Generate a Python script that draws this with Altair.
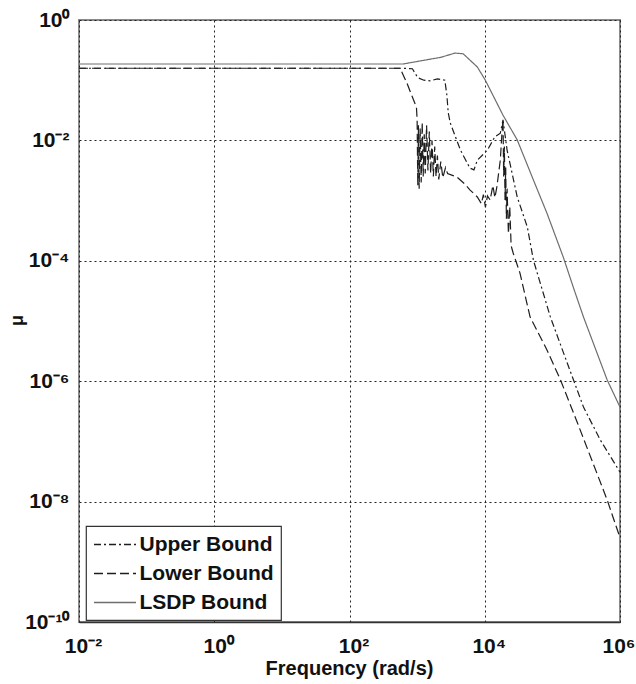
import math
import altair as alt
import pandas as pd

series_names = ["Upper Bound", "Lower Bound", "LSDP Bound"]
series_colors = ["#1e1e1e", "#1e1e1e", "#6e6e6e"]
series_dashes = [[7, 3, 2, 3], [9, 4], [1, 0]]

upper_freq = [1e-2, 603, 851, 1023, 1259, 1549, 1995, 2570, 2754, 2884, 3090,
              4365, 6026, 6918, 7762, 10965, 14125, 16982, 18621, 21380, 30200,
              42658, 52481, 93325, 165959, 288403, 512861, 1e6]
upper_mu = [0.158, 0.158, 0.155, 0.110, 0.100, 0.0977, 0.105, 0.100, 0.0562, 0.0288, 0.0195,
            6.92e-3, 3.47e-3, 3.24e-3, 4.68e-3, 6.92e-3, 0.0115, 0.0132, 0.0219, 6.92e-3, 1.15e-3,
            3.63e-4, 1.02e-4, 1.17e-5, 2.0e-6, 3.72e-7, 1.05e-7, 3.09e-8]

lower_freq = [1e-2, 562, 603, 708, 851, 977, 1000,
              1023, 1047, 1072, 1109, 1148, 1189, 1230, 1274, 1318, 1380, 1445, 1514,
              1585, 1660, 1738, 1820, 1905, 1995, 2089, 2239, 2399, 2630, 2818,
              3890, 5012, 6026, 7762, 8913, 9550, 10233, 10965, 12023, 13183, 14125,
              15136, 16218, 16982, 18197, 18621, 19055, 19498, 19953, 20417, 20893,
              21380, 22387, 23442, 24547, 26303, 33113, 46774, 83176, 131826, 234423,
              398107, 645654, 1e6]
lower_mu = [0.158, 0.158, 0.132, 0.0891, 0.0525, 0.0355, 0.0219,
            1.78e-3, 0.0178, 1.58e-3, 0.0158, 2.0e-3, 0.020, 2.51e-3, 0.0126, 2.82e-3, 0.0178,
            3.16e-3, 0.0141, 2.82e-3, 0.0100, 2.51e-3, 7.94e-3, 2.51e-3, 5.62e-3, 2.24e-3,
            4.47e-3, 2.40e-3, 3.55e-3, 2.82e-3,
            2.45e-3, 1.91e-3, 1.51e-3, 1.15e-3, 8.91e-4, 1.26e-3, 7.76e-4, 1.20e-3, 1.02e-3,
            1.78e-3, 1.12e-3, 1.70e-3, 3.16e-3, 4.68e-3, 0.0166, 0.0219, 2.51e-3, 7.94e-3,
            1.02e-3, 3.55e-3, 5.01e-4, 1.58e-3, 2.82e-4, 7.94e-4, 1.78e-4, 1.35e-4, 6.31e-5,
            1.17e-5, 3.31e-6, 1.05e-6, 2.04e-7, 4.37e-8, 1.07e-8, 2.51e-9]

lsdp_freq = [1e-2, 620, 1410, 2240, 3630, 4790, 7760, 10200, 18600, 30200, 52500,
             83200, 145000, 204000, 288000, 646000, 1e6]
lsdp_mu = [0.186, 0.186, 0.219, 0.240, 0.282, 0.275, 0.166, 0.100, 0.0263, 0.0102, 2.19e-3,
           6.17e-4, 1.15e-4, 3.63e-5, 1.17e-5, 1.05e-6, 3.72e-7]

x_ticks = [1e-2, 1e0, 1e2, 1e4, 1e6]
x_tick_labels = ["10⁻²", "10⁰", "10²", "10⁴", "10⁶"]
y_ticks = [1e-10, 1e-8, 1e-6, 1e-4, 1e-2, 1e0]
y_tick_labels = ["10⁻¹⁰", "10⁻⁸", "10⁻⁶", "10⁻⁴", "10⁻²", "10⁰"]

rows = []
for name, fs, ms in [("Upper Bound", upper_freq, upper_mu),
                     ("Lower Bound", lower_freq, lower_mu),
                     ("LSDP Bound", lsdp_freq, lsdp_mu)]:
    for i, (f, m) in enumerate(zip(fs, ms)):
        rows.append({"series": name, "freq": f, "mu": m, "idx": i})
df = pd.DataFrame(rows)


def label_expr(ticks, labels):
    parts = []
    for t, l in zip(ticks, labels):
        parts.append(f"abs(log(datum.value)/LN10 - ({math.log10(t)})) < 0.01 ? '{l}'")
    return " : ".join(parts) + " : ''"


FONT = "Liberation Sans"

chart = alt.Chart(df).mark_line(strokeWidth=1.2, clip=True).encode(
    x=alt.X("freq:Q",
            scale=alt.Scale(type="log", domain=[1e-2, 1e6], nice=False),
            axis=alt.Axis(values=x_ticks, labelExpr=label_expr(x_ticks, x_tick_labels),
                          title="Frequency (rad/s)", grid=True, ticks=False,
                          labelFont=FONT, labelFontSize=21, labelFontWeight="bold",
                          labelColor="#111", labelPadding=13,
                          labelAlign={"condition": {"test": "datum.value > 100000", "value": "right"},
                                      "value": "center"},
                          labelOffset={"condition": {"test": "datum.value > 100000", "value": 15},
                                       "value": 4},
                          labelFlush=False, labelOverlap=False,
                          titleFont=FONT, titleFontSize=20, titleFontWeight="bold",
                          titleColor="#111", titleX=270, titleY=46,
                          titleBaseline="middle", titleAlign="center",
                          domainColor="#333", domainWidth=1.5)),
    y=alt.Y("mu:Q",
            scale=alt.Scale(type="log", domain=[1e-10, 1], nice=False),
            axis=alt.Axis(values=y_ticks, labelExpr=label_expr(y_ticks, y_tick_labels),
                          title="μ", grid=True, ticks=False,
                          labelFont=FONT, labelFontSize=21, labelFontWeight="bold",
                          labelColor="#111", labelPadding=10,
                          labelFlush=False, labelOverlap=False,
                          titleFont=FONT, titleFontSize=18, titleFontWeight="bold",
                          titleColor="#111", titleX=-62, titleY=300,
                          titleBaseline="middle", titleAlign="center",
                          domain=False)),
    color=alt.Color("series:N",
                    scale=alt.Scale(domain=series_names, range=series_colors),
                    legend=alt.Legend(title=None)),
    strokeDash=alt.StrokeDash("series:N",
                              scale=alt.Scale(domain=series_names, range=series_dashes),
                              legend=alt.Legend(title=None)),
    order="idx:Q",
).properties(
    width=541, height=602,
    background="white",
    autosize=alt.AutoSizeParams(type="none"),
    padding={"left": 79, "top": 20, "right": 16, "bottom": 62},
).configure_view(
    stroke="#8a8a8a", strokeWidth=2
).configure_axis(
    gridColor="#222", gridDash=[2, 3], gridWidth=1, gridOpacity=1
).configure_legend(
    orient="none", legendX=7, legendY=506,
    fillColor="white", strokeColor="#333", strokeWidth=1.2,
    padding=7, symbolType="M-2,0H2", symbolSize=441, symbolStrokeWidth=1.6,
    symbolOffset=10.5,
    labelFont=FONT, labelFontSize=21, labelFontWeight="bold", labelColor="#111",
    labelOffset=13, rowPadding=7, cornerRadius=0
)

chart.save("out.html", embed_options={"renderer": "svg", "actions": False})
